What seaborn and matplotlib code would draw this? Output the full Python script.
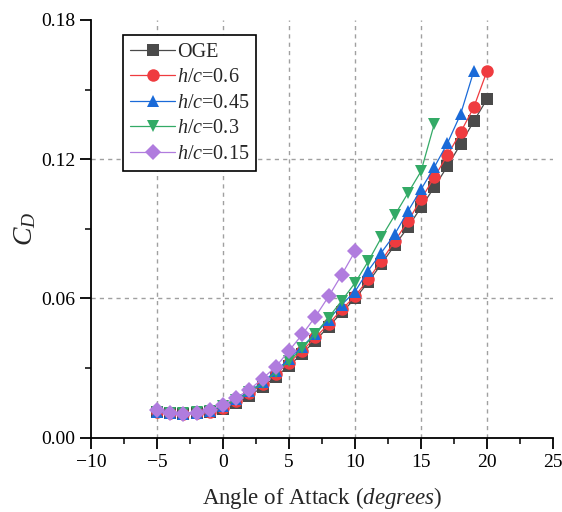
import numpy as np
import pandas as pd
import matplotlib
matplotlib.use("Agg")
import matplotlib.pyplot as plt
import seaborn as sns
from matplotlib.ticker import MultipleLocator, FormatStrFormatter

# angle of attack (degrees) per case
alpha_oge = list(range(-5, 21))
alpha_06 = list(range(-5, 21))
alpha_045 = list(range(-5, 20))
alpha_03 = list(range(-5, 17))
alpha_015 = list(range(-5, 11))

# drag coefficient
cd_oge = [0.0110, 0.0105, 0.0103, 0.0105, 0.0110, 0.0125, 0.0150, 0.0180, 0.0220,
          0.0263, 0.0310, 0.0363, 0.0419, 0.0479, 0.0540, 0.0600, 0.0670, 0.0749,
          0.0829, 0.0906, 0.0993, 0.1079, 0.1170, 0.1265, 0.1364, 0.1459]
cd_06 = [0.0112, 0.0106, 0.0104, 0.0107, 0.0113, 0.0130, 0.0158, 0.0192, 0.0231,
         0.0275, 0.0323, 0.0375, 0.0432, 0.0490, 0.0553, 0.0610, 0.0683, 0.0762,
         0.0846, 0.0932, 0.1027, 0.1122, 0.1217, 0.1316, 0.1424, 0.1580]
cd_045 = [0.0112, 0.0105, 0.0104, 0.0107, 0.0115, 0.0136, 0.0166, 0.0200, 0.0240,
          0.0287, 0.0340, 0.0393, 0.0449, 0.0509, 0.0574, 0.0630, 0.0720, 0.0798,
          0.0876, 0.0975, 0.1070, 0.1165, 0.1269, 0.1394, 0.1580]
cd_03 = [0.0113, 0.0107, 0.0106, 0.0109, 0.0117, 0.0138, 0.0162, 0.0196, 0.0235,
         0.0282, 0.0330, 0.0386, 0.0449, 0.0518, 0.0591, 0.0667, 0.0760, 0.0863,
         0.0958, 0.1053, 0.1148, 0.1351]
cd_015 = [0.0120, 0.0108, 0.0104, 0.0108, 0.0121, 0.0142, 0.0173, 0.0207, 0.0255,
          0.0306, 0.0375, 0.0445, 0.0522, 0.0609, 0.0703, 0.0803]

labels = ["OGE", "$h/c$=0.6", "$h/c$=0.45", "$h/c$=0.3", "$h/c$=0.15"]
colors = ["#4a4a4a", "#ef3b3f", "#1a6ad8", "#33aa66", "#b07cde"]
markers = ["s", "o", "^", "v", "D"]
sizes = [8, 9, 9, 9, 8]

sns.set_style("ticks")
plt.rcParams["font.family"] = ["Liberation Serif", "DejaVu Serif"]
plt.rcParams["mathtext.fontset"] = "custom"
plt.rcParams["mathtext.rm"] = "Liberation Serif"
plt.rcParams["mathtext.it"] = "Liberation Serif:italic"

fig = plt.figure(figsize=(5.62, 5.12), dpi=100)
ax = fig.add_axes([0.162, 0.145, 0.822, 0.816])

# dashed grid at inner major ticks only
for xv in [-5, 0, 5, 10, 15, 20]:
    ax.axvline(xv, color="#a0a0a0", linestyle=(0, (3, 3)), linewidth=1, zorder=0)
for yv in [0.06, 0.12]:
    ax.axhline(yv, color="#a0a0a0", linestyle=(0, (3, 3)), linewidth=1, zorder=0)

series = [(alpha_oge, cd_oge), (alpha_06, cd_06), (alpha_045, cd_045),
          (alpha_03, cd_03), (alpha_015, cd_015)]
for (a, cd), lab, col, mk, ms in zip(series, labels, colors, markers, sizes):
    sns.lineplot(x=a, y=cd, ax=ax, label=lab, color=col, marker=mk,
                 markersize=ms, markeredgewidth=0, linewidth=0.9)

ax.set_xlim(-10, 25)
ax.set_ylim(0, 0.18)
ax.xaxis.set_major_locator(MultipleLocator(5))
ax.xaxis.set_minor_locator(MultipleLocator(2.5))
ax.yaxis.set_major_locator(MultipleLocator(0.06))
ax.yaxis.set_minor_locator(MultipleLocator(0.03))
ax.yaxis.set_major_formatter(FormatStrFormatter("%.2f"))

sns.despine(ax=ax)
for s in ["left", "bottom"]:
    ax.spines[s].set_linewidth(1.3)
    ax.spines[s].set_color("black")
ax.tick_params(which="major", direction="out", length=8, width=1.3, labelsize=14, colors="black")
ax.tick_params(which="minor", direction="out", length=4, width=1.3)

ax.set_xlabel("Angle of Attack ($degrees$)", fontsize=16.5, labelpad=10)
ax.set_ylabel("$C_D$", fontsize=20, labelpad=2)

leg = ax.legend(loc="upper left", bbox_to_anchor=(0.07, 0.963), fontsize=14.5,
                frameon=True, fancybox=False, edgecolor="black", framealpha=1,
                handlelength=2.2, handletextpad=0.1, labelspacing=0.32,
                borderpad=0.35, borderaxespad=0)
leg.get_frame().set_linewidth(1.2)

fig.savefig("out.png", dpi=100)
